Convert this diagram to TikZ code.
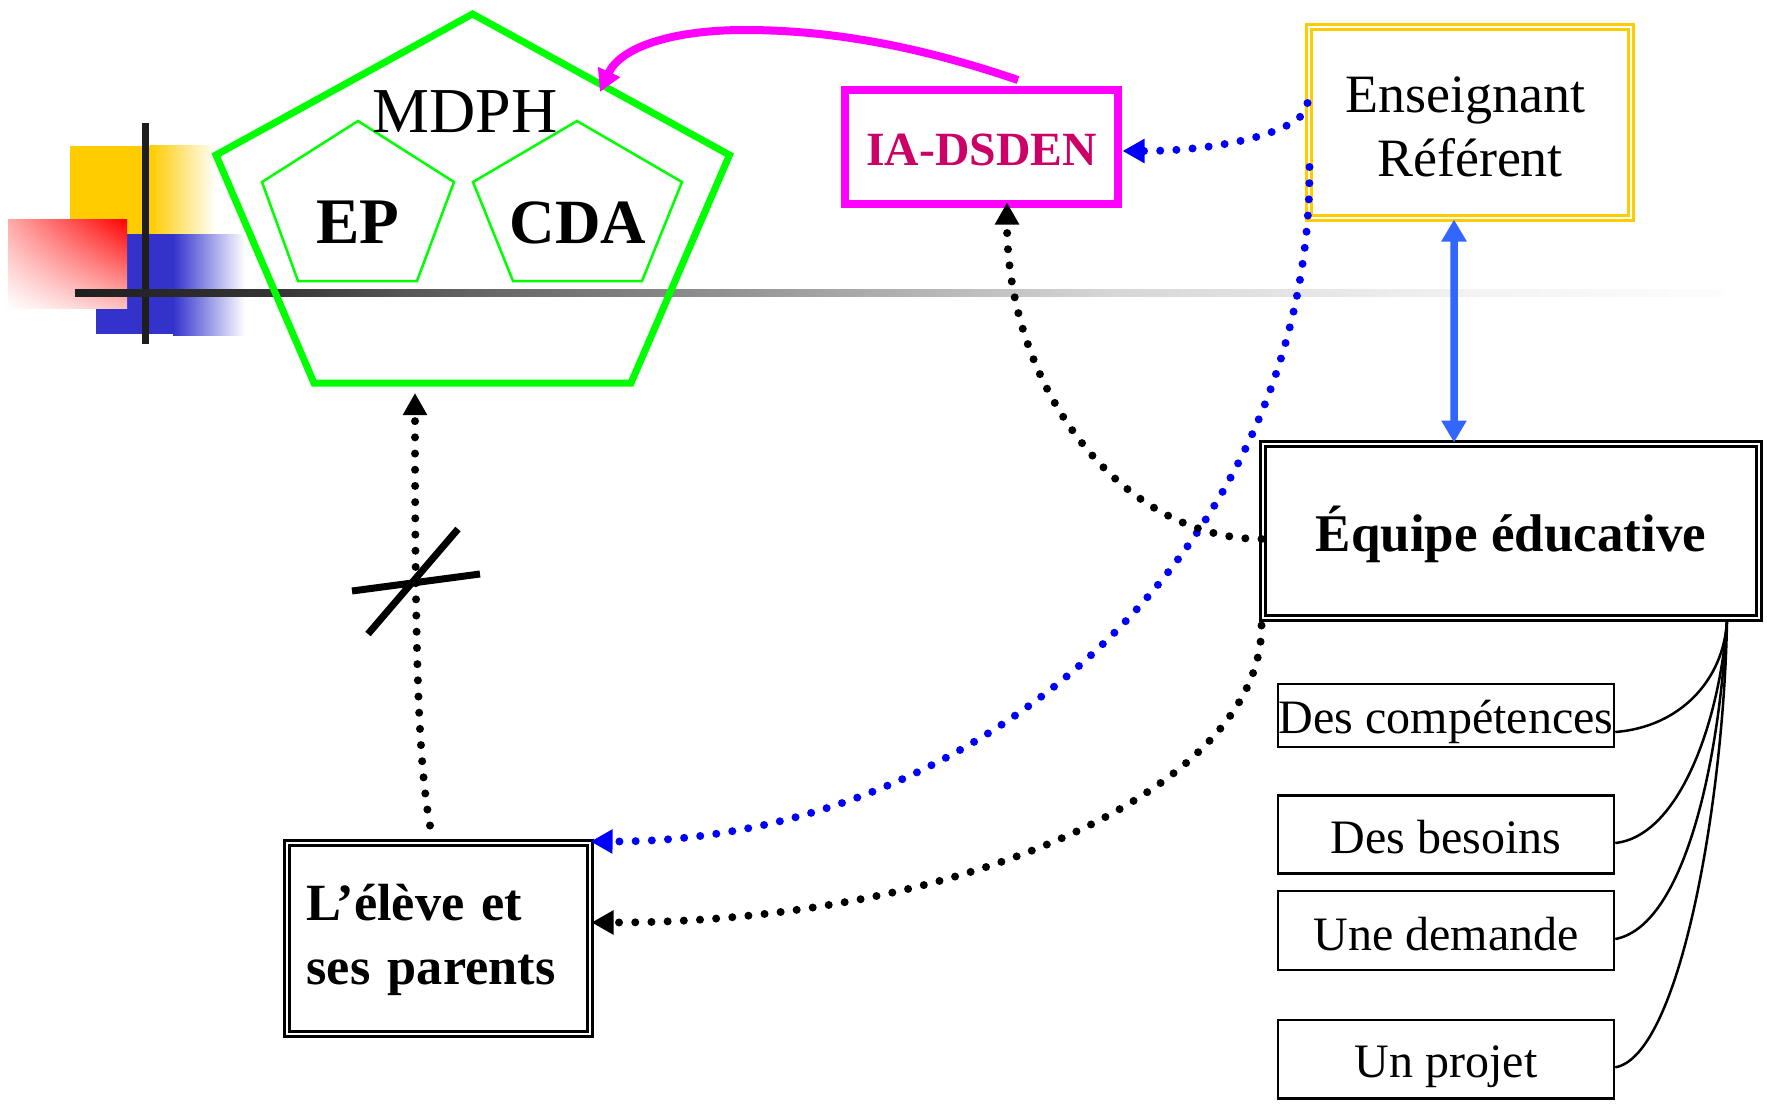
\documentclass[tikz,border=0pt]{standalone}
\usepackage{fontspec}
\setmainfont{Liberation Serif}
\usetikzlibrary{arrows.meta,shadings,positioning}
\definecolor{gold}{HTML}{FFCC00}
\definecolor{royal}{HTML}{3333CC}
\definecolor{dred}{HTML}{CC0066}
\definecolor{mag}{HTML}{FF00FF}
\definecolor{lime}{HTML}{00FF00}
\definecolor{arrowblue}{HTML}{3366FF}
\definecolor{dotblue}{HTML}{0000FF}
\definecolor{ink}{HTML}{1E1E1E}
\definecolor{pinka}{HTML}{FFA8A8}
\definecolor{pinkb}{HTML}{FFC0C0}
\definecolor{purered}{HTML}{FF0000}
\pgfdeclarehorizontalshading{hfade}{100bp}{
 color(0bp)=(ink); color(25bp)=(ink);
 color(31bp)=(ink!90!white);
 color(35bp)=(ink!75!white);
 color(46bp)=(ink!45!white);
 color(56.5bp)=(ink!18!white);
 color(68bp)=(ink!5!white);
 color(75bp)=(ink!1!white); color(100bp)=(white)}
\newcommand{\fs}[2]{\fontsize{#1bp}{#2bp}\selectfont}
\tikzset{
 x=1bp,y=-1bp,
 plainbox/.style={draw=black,line width=2.5bp,inner sep=0pt,minimum width=336bp,font=\fs{48}{58}},
 base/.style={text depth=0pt,text height=#1},
 dblbox/.style={draw=#1,double=white,line width=3bp,double distance=2.5bp,inner sep=0pt},
 bigpent/.style={draw=lime,line width=7bp,miter limit=10},
 smallpent/.style={draw=lime,line width=2.5bp},
 dotline/.style={line width=8bp,line cap=round,dash pattern=on 0pt off 16.2bp},
 bighead/.style={-{Triangle[length=22bp,width=23bp]}},
 thinlink/.style={draw=black,line width=2.5bp},
 penttext/.style={anchor=base,inner sep=0pt,font=\fs{63}{70}\bfseries}
}
\begin{document}
\begin{tikzpicture}
\useasboundingbox (0,0) rectangle (1767,1103);
% decorative squares
\fill[gold] (70,146) rectangle (151,234);
\shade[left color=gold,right color=white] (150,145) rectangle (216,234);
\fill[royal] (96,234) rectangle (174,334);
\shade[left color=royal,right color=white] (173,234) rectangle (245,335);
\shade[upper right=purered,lower left=white,upper left=pinka,lower right=pinkb] (8,219) rectangle (127,308);
% rules
\fill[ink] (142,123) rectangle (149,344);
\shade[shading=hfade] (75,289) rectangle (1725,296);
% pentagons
\draw[bigpent] (472.6,14) -- (729.5,155) -- (631,383) -- (314,383) -- (216,155) -- cycle;
\draw[smallpent] (358,121) -- (454,182) -- (417,281) -- (298,281) -- (262,182) -- cycle;
\draw[smallpent] (577,121) -- (682,182) -- (642,281) -- (513,281) -- (473,182) -- cycle;
\node[anchor=base,inner sep=0pt,font=\fs{64}{70}] (mdph) at (465,132) {MDPH};
\node[penttext,font=\fs{65}{70}\bfseries] (ep) at (358,243) {EP};
\node[penttext] (cda) at (578,243) {CDA};
\coordinate (mdphtip) at (600,92);
\coordinate (mdphfoot) at (415,393);
% boxes
\node[draw=mag,line width=8bp,inner sep=0pt,minimum width=273bp,minimum height=114bp,base=36bp,
  font=\fs{47.7}{58}\bfseries,text=dred] (ia) at (981.5,147) {IA-DSDEN};
\node[dblbox=gold,minimum width=322bp,minimum height=191bp,align=center,font=\fs{54}{64}] (ens) at (1470,122.5)
  {\rule{0pt}{45bp}Enseignant\hspace*{9bp}\\Référent};
\node[dblbox=black,minimum width=496bp,minimum height=174bp,base=40bp,font=\fs{53}{64}\bfseries] (eq) at (1511,531) {Équipe éducative};
\node[dblbox=black,minimum width=303bp,minimum height=191bp,text width=264bp,align=left,font=\fs{52.3}{64}\bfseries] (eleve) at (438.5,938.5)
  {\rule{0pt}{39bp}L’élève et\\ses parents};
\node[plainbox,minimum height=63bp,base=35bp] (comp) at (1446,715.5) {Des compétences};
\node[plainbox,minimum height=78bp,base=37bp] (bes) at (1446,834.5) {Des besoins};
\node[plainbox,minimum height=79bp,base=39bp] (dem) at (1446,930.5) {Une demande};
\node[plainbox,minimum height=78.5bp,base=35.4bp] (proj) at (1446,1059.3) {Un projet};
% thin links
\coordinate (eqfoot) at (1727,620);
\draw[thinlink] ([yshift=-16.5bp]comp.east) .. controls (1680,727) and (1724,680) .. (eqfoot);
\draw[thinlink] ([yshift=-8.5bp]bes.east) .. controls (1680,836) and (1720,720) .. (eqfoot);
\draw[thinlink] ([yshift=-8.5bp]dem.east) .. controls (1680,927) and (1718,780) .. (eqfoot);
\draw[thinlink] ([yshift=-8bp]proj.east) .. controls (1680,1056) and (1724,800) .. (eqfoot);
% connectors
\draw[arrowblue,line width=7.5bp,{Triangle[length=22bp,width=24bp]}-{Triangle[length=22bp,width=24bp]}]
  ([xshift=-16bp]ens.south) -- ([xshift=-57bp]eq.north);
\draw[mag,line width=8bp,bighead] ([shift={(36.5,-6)}]ia.north) .. controls (930,50) and (840,30) .. (745,30) .. controls (670,30) and (620,48) .. (mdphtip);
\draw[dotblue,dotline,bighead] ([shift={(0,-19.5)}]ens.west) .. controls (1308,129.5) and (1225.6,151) .. ([shift={(0.5,4)}]ia.east);
\draw[dotblue,dotline,bighead] ([shift={(2,44.5)}]ens.west) .. controls (1311,540) and (989,842) .. ([shift={(-1,0)}]eleve.north east);
\draw[black,dotline,bighead] ([shift={(0,8)}]eq.west) .. controls (1122.5,539) and (1007,389) .. ([shift={(25.5,-5.5)}]ia.south);
\draw[black,dotline,bighead] ([shift={(0,6)}]eq.south west) .. controls (1262,789) and (962,922.5) .. ([shift={(0,-16)}]eleve.east);
\draw[black,dotline,bighead] ([shift={(-8.5,-16)}]eleve.north) .. controls (418,760) and (415,650) .. (mdphfoot);
% cross
\draw[black,line width=7bp] (352,591) -- (480,574);
\draw[black,line width=7bp] (368,634) -- (458,529);
\end{tikzpicture}
\end{document}
